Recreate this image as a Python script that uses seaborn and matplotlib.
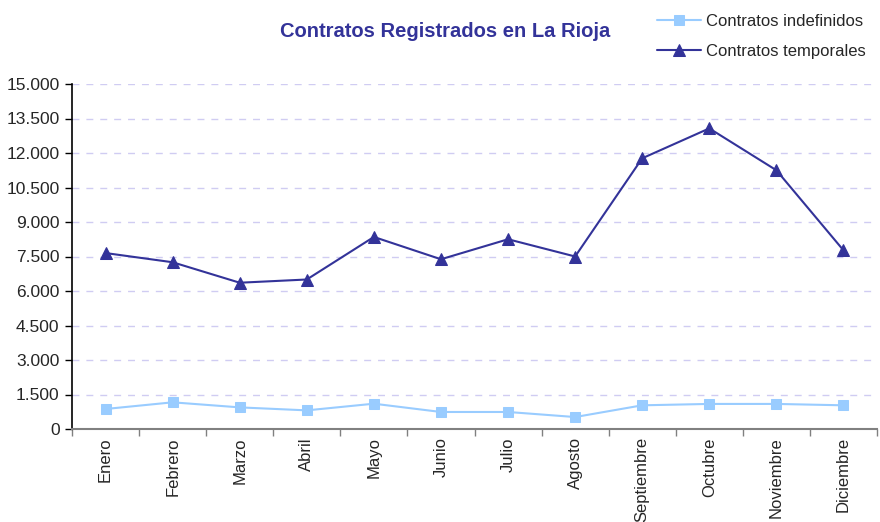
import numpy as np
import pandas as pd
import matplotlib
matplotlib.use("Agg")
import matplotlib.pyplot as plt
import matplotlib.ticker as mticker
import seaborn as sns

meses = ["Enero", "Febrero", "Marzo", "Abril", "Mayo", "Junio", "Julio",
         "Agosto", "Septiembre", "Octubre", "Noviembre", "Diciembre"]
indefinidos = [870, 1160, 940, 810, 1100, 740, 740, 520, 1030, 1090, 1090, 1030]
temporales = [7650, 7250, 6360, 6500, 8350, 7380, 8250, 7500, 11770, 13070, 11250, 7770]

color_indef = "#99CCFF"
color_temp = "#333399"

df = pd.DataFrame({
    "pos": np.arange(len(meses)),
    "mes": meses,
    "Contratos indefinidos": indefinidos,
    "Contratos temporales": temporales,
})

sns.set_style("white")
plt.rcParams["font.family"] = ["Liberation Sans", "DejaVu Sans"]

fig = plt.figure(figsize=(8.8, 5.22), dpi=100)
ax = fig.add_axes([72 / 880, 1 - 429 / 522, 805 / 880, 345 / 522])

sns.lineplot(data=df, x="pos", y="Contratos indefinidos", ax=ax, color=color_indef,
             marker="s", markersize=7, markeredgecolor=color_indef, linewidth=1.5,
             label="Contratos indefinidos")
sns.lineplot(data=df, x="pos", y="Contratos temporales", ax=ax, color=color_temp,
             marker="^", markersize=9, markeredgecolor=color_temp, linewidth=1.5,
             label="Contratos temporales")

ax.set_xlim(-0.5, len(meses) - 0.5)
ax.set_ylim(0, 15000)
ax.yaxis.set_major_locator(mticker.MultipleLocator(1500))
ax.yaxis.set_major_formatter(
    mticker.FuncFormatter(lambda v, p: f"{int(v):,}".replace(",", ".")))

ax.set_xticks(df["pos"])
ax.set_xticklabels(meses, rotation=90, fontsize=12)
ax.xaxis.set_minor_locator(mticker.FixedLocator(np.arange(-0.5, len(meses), 1)))
ax.tick_params(axis="x", which="major", length=0, pad=6)
ax.tick_params(axis="x", which="minor", length=5, width=1, color="#808080",
               direction="out", bottom=True)
ax.tick_params(axis="y", which="major", length=5, width=1, color="black",
               direction="out", left=True, labelsize=12.5, pad=4)

ax.grid(axis="y", color="#d0ccf2", linestyle=(0, (5, 5)), linewidth=1)
ax.set_axisbelow(True)
ax.set_xlabel("")
ax.set_ylabel("")

for s in ["top", "right"]:
    ax.spines[s].set_visible(False)
ax.spines["left"].set_color("black")
ax.spines["left"].set_linewidth(1.2)
ax.spines["bottom"].set_color("#808080")
ax.spines["bottom"].set_linewidth(1.5)

fig.text(445 / 880, 1 - 31 / 522, "Contratos Registrados en La Rioja",
         ha="center", va="center", fontsize=14.5, fontweight="bold", color=color_temp)

ax.legend(loc="upper right", bbox_to_anchor=(1.0 - 5 / 805, 1 + 77 / 345), frameon=False,
          fontsize=12, handlelength=2.6, labelspacing=0.9, borderaxespad=0.0,
          handletextpad=0.3)

fig.savefig("out.png", dpi=100)
